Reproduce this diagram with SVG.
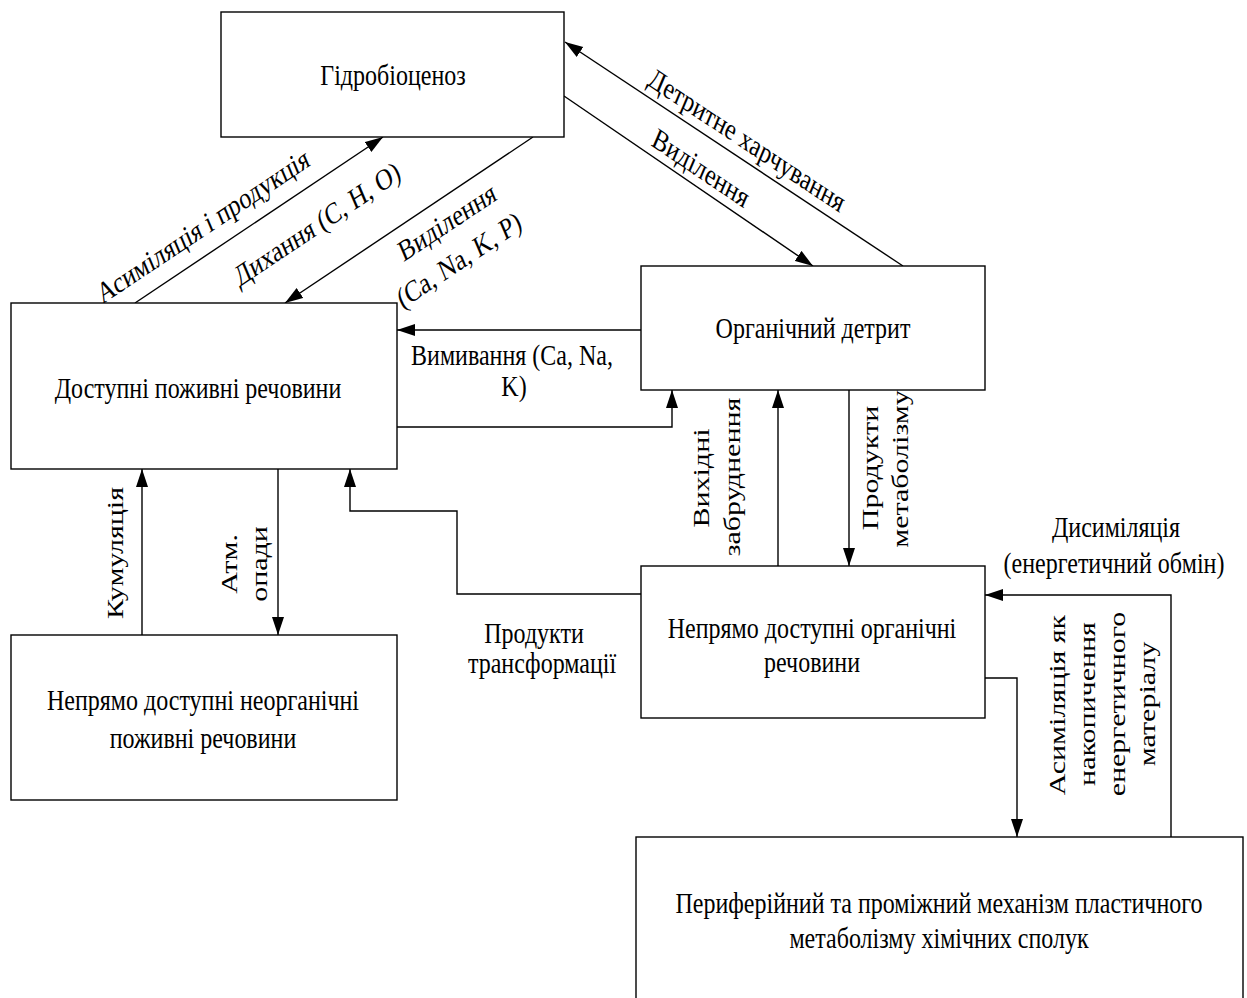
<svg xmlns="http://www.w3.org/2000/svg" width="1247" height="998" viewBox="0 0 1247 998">
<defs>
<marker id="arr" markerUnits="userSpaceOnUse" markerWidth="19" markerHeight="13" refX="18" refY="6.5" orient="auto">
<path d="M0,0.5 L18,6.5 L0,12.5 z" fill="#000"/>
</marker>
<style>
.box{fill:#fff;stroke:#000;stroke-width:1.4}
.c{fill:none;stroke:#000;stroke-width:1.4;marker-end:url(#arr)}
text{font-family:"Liberation Serif","Times New Roman",serif;font-size:24px;fill:#000;text-anchor:middle;dominant-baseline:central}
</style>
</defs>
<rect width="1247" height="998" fill="#fff"/>
<g id="connectors">
<line class="c" x1="135" y1="303" x2="383" y2="137"/>
<line class="c" x1="533" y1="137" x2="285" y2="303"/>
<line class="c" x1="903" y1="266" x2="565" y2="42"/>
<line class="c" x1="564" y1="96" x2="813" y2="266"/>
<line class="c" x1="641" y1="330" x2="397" y2="330"/>
<polyline class="c" points="397,427 672,427 672,390"/>
<line class="c" x1="778" y1="566" x2="778" y2="390"/>
<line class="c" x1="849" y1="390" x2="849" y2="566"/>
<line class="c" x1="142" y1="635" x2="142" y2="469"/>
<line class="c" x1="278" y1="469" x2="278" y2="635"/>
<polyline class="c" points="641,594 457,594 457,511 350,511 350,469"/>
<polyline class="c" points="985,678 1017,678 1017,837"/>
<polyline class="c" points="1171,837 1171,595 985,595"/>
</g>
<g id="labels">
<text transform="translate(203,226) scale(1,1.25) rotate(-28.1)">Асиміляція і продукція</text>
<text transform="translate(317,224) scale(1,1.25) rotate(-28.1)">Дихання (C, H, O)</text>
<text transform="translate(447,222) scale(1,1.25) rotate(-28.1)">Виділення</text>
<text transform="translate(459,260) scale(1,1.25) rotate(-28.1)">(Ca, Na, K, P)</text>
<text transform="translate(747,140) scale(1,1.25) rotate(28)">Детритне харчування</text>
<text transform="translate(701,168) scale(1,1.25) rotate(28.4)">Виділення</text>
<text transform="translate(512,355) scale(1,1.25)">Вимивання (Ca, Na,</text>
<text transform="translate(514,386) scale(1,1.25)">K)</text>
<text transform="translate(115,553) scale(1,1.25) rotate(-90)">Кумуляція</text>
<text transform="translate(229,564) scale(1,1.25) rotate(-90)">Атм.</text>
<text transform="translate(259,564) scale(1,1.25) rotate(-90)">опади</text>
<text transform="translate(701,478) scale(1,1.25) rotate(-90)">Вихідні</text>
<text transform="translate(732,477) scale(1,1.25) rotate(-90)">забруднення</text>
<text transform="translate(870,468) scale(1,1.25) rotate(-90)">Продукти</text>
<text transform="translate(900,469) scale(1,1.25) rotate(-90)">метаболізму</text>
<text transform="translate(534,633) scale(1,1.25)">Продукти</text>
<text transform="translate(542,663) scale(1,1.25)">трансформації</text>
<text transform="translate(1116,527) scale(1,1.25)">Дисиміляція</text>
<text transform="translate(1114,563) scale(1,1.25)">(енергетичний обмін)</text>
<text transform="translate(1057,705) scale(1,1.25) rotate(-90)">Асиміляція як</text>
<text transform="translate(1087,704) scale(1,1.25) rotate(-90)">накопичення</text>
<text transform="translate(1117,704) scale(1,1.25) rotate(-90)">енергетичного</text>
<text transform="translate(1147,704) scale(1,1.25) rotate(-90)">матеріалу</text>
</g>
<g id="n-hydro">
<rect class="box" x="221" y="12" width="343" height="125"/>
<text transform="translate(393,75) scale(1,1.25)">Гідробіоценоз</text>
</g>
<g id="n-available">
<rect class="box" x="11" y="303" width="386" height="166"/>
<text transform="translate(198,388) scale(1,1.25)">Доступні поживні речовини</text>
</g>
<g id="n-detritus">
<rect class="box" x="641" y="266" width="344" height="124"/>
<text transform="translate(813,328) scale(1,1.25)">Органічний детрит</text>
</g>
<g id="n-inorganic">
<rect class="box" x="11" y="635" width="386" height="165"/>
<text transform="translate(203,700) scale(1,1.25)">Непрямо доступні неорганічні</text>
<text transform="translate(203,738) scale(1,1.25)">поживні речовини</text>
</g>
<g id="n-organic">
<rect class="box" x="641" y="566" width="344" height="152"/>
<text transform="translate(812,628) scale(1,1.25)">Непрямо доступні органічні</text>
<text transform="translate(812,662) scale(1,1.25)">речовини</text>
</g>
<g id="n-peripheral">
<rect class="box" x="636" y="837" width="607" height="175"/>
<text transform="translate(939,903) scale(1,1.25)">Периферійний та проміжний механізм пластичного</text>
<text transform="translate(939,938) scale(1,1.25)">метаболізму хімічних сполук</text>
</g>
</svg>
